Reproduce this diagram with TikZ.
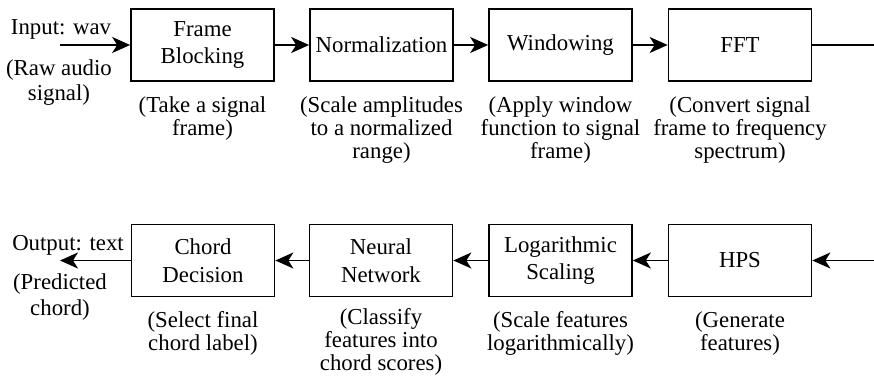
\documentclass[tikz,border=0pt]{standalone}
\usepackage{fontspec}
\setmainfont{Liberation Serif}
\usetikzlibrary{arrows.meta}
\begin{document}
\begin{tikzpicture}[x=1pt,y=-1pt,
  txt/.style={inner sep=0pt, align=center, font=\fontsize{22.8}{23}\selectfont},
  box/.style={inner sep=0pt, align=center, font=\fontsize{22.8}{27.5}\selectfont, draw, line width=1.7pt, minimum width=143pt, minimum height=72pt},
  captxt/.style={txt, anchor=north},
  ln/.style={line width=1.7pt},
  arr/.style={ln, -{Stealth[length=18pt,width=16pt,inset=5pt]}}]
\useasboundingbox (0,0) rectangle (874,379);
% top row
\node[box] (fb)  at (202.5,45) {Frame\\Blocking};
\node[box] (nm)  at (381.5,45) {Normalization};
\node[box] (wd)  at (560.5,45) {Windowing};
\node[box] (fft) at (740,45)   {FFT};
\node[captxt] (cfb)  at (202.5,96) {(Take a signal\\frame)};
\node[captxt] (cnm)  at (381.5,96) {(Scale amplitudes\\to a normalized\\range)};
\node[captxt] (cwd)  at (560.5,96) {(Apply window\\function to signal\\frame)};
\node[captxt] (cfft) at (740,96)   {(Convert signal\\frame to frequency\\spectrum)};
\node[txt] (in)  at (61,29) {Input: wav};
\node[captxt, font=\fontsize{22.8}{25}\selectfont] (cin) at (59,59) {(Raw audio\\signal)};
\coordinate (inS) at (60,45);
\coordinate (fftE) at (874,45);
\draw[arr] (inS) -- (fb);
\draw[arr] (fb) -- (nm);
\draw[arr] (nm) -- (wd);
\draw[arr] (wd) -- (fft);
\draw[ln] (fft) -- (fftE);
% bottom row
\node[box] (cd)  at (203,260.5)   {Chord\\Decision};
\node[box] (nn)  at (381,260.5)   {Neural\\Network};
\node[box] (ls)  at (560.5,260.5) {Logarithmic\\Scaling};
\node[box] (hps) at (740,260.5)   {HPS};
\node[captxt] (ccd)  at (203,311)   {(Select final\\chord label)};
\node[captxt] (cnn)  at (381,308)   {(Classify\\features into\\chord scores)};
\node[captxt] (cls)  at (560.5,311) {(Scale features\\logarithmically)};
\node[captxt] (chps) at (740,311)   {(Generate\\features)};
\node[txt] (out)  at (68,245) {Output: text};
\node[captxt, font=\fontsize{22.8}{26}\selectfont] (cout) at (60,273) {(Predicted\\chord)};
\coordinate (outE) at (60,260.5);
\coordinate (hpsS) at (874,260.5);
\draw[arr] (hpsS) -- (hps);
\draw[arr] (hps) -- (ls);
\draw[arr] (ls) -- (nn);
\draw[arr] (nn) -- (cd);
\draw[arr] (cd) -- (outE);
\end{tikzpicture}
\end{document}
